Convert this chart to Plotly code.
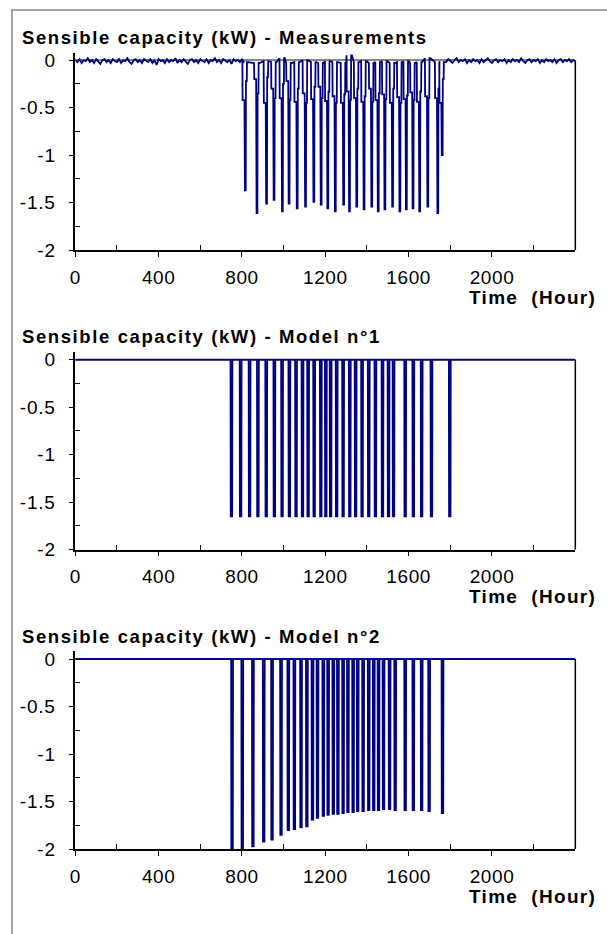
import plotly.graph_objects as go

W, H = 607, 934

# ---------------- data ----------------
x_tick_vals = [0, 400, 800, 1200, 1600, 2000]
x_tick_text = ["0", "400", "800", "1200", "1600", "2000"]
x_minor_vals = [200, 600, 1000, 1400, 1800, 2200]
y_tick_vals = [0, -0.5, -1, -1.5, -2]
y_tick_text = ["0", "-0.5", "-1", "-1.5", "-2"]
y_minor_vals = [-0.25, -0.75, -1.25, -1.75]

panel_titles = [
    "Sensible capacity (kW) - Measurements",
    "Sensible capacity (kW) - Model n°1",
    "Sensible capacity (kW) - Model n°2",
]
x_title = "Time  (Hour)"

# Measurements: idle noise before and after the cooling period (sampled every 10 h)
meas_pre_hours = list(range(0, 820, 10))
meas_pre_vals = [0.00, -0.02, 0.01, -0.03, 0.00, -0.01, 0.02, -0.02, 0.00, -0.03,
                 0.01, -0.01, -0.04, 0.00, 0.01, -0.02, 0.00, -0.03, 0.01, -0.01,
                 -0.02, 0.01, -0.03, 0.00, -0.01, 0.02, -0.02, -0.04, 0.00, 0.01,
                 -0.02, 0.00, -0.03, 0.01, -0.01, -0.02, 0.01, -0.03, 0.00, -0.05,
                 0.01, -0.01, 0.00, -0.03, 0.01, -0.02, 0.00, -0.01, 0.02, -0.03,
                 0.00, -0.02, 0.01, -0.01, -0.04, 0.00, 0.01, -0.02, 0.00, -0.03,
                 0.01, -0.01, -0.02, 0.01, -0.03, 0.00, -0.01, 0.02, -0.02, 0.00,
                 -0.03, 0.01, -0.01, -0.02, 0.00, -0.04, 0.01, -0.01, 0.00, -0.02,
                 0.01, -0.02]
meas_post_hours = list(range(1780, 2410, 10))
meas_post_vals = [-0.02, 0.01, -0.01, -0.03, 0.00, 0.02, -0.02, 0.00, -0.01, 0.01,
                  -0.03, 0.00, -0.02, 0.01, -0.01, 0.00, -0.03, 0.01, -0.02, 0.00,
                  0.02, -0.01, -0.03, 0.00, 0.01, -0.02, 0.00, -0.01, 0.01, -0.03,
                  0.00, -0.02, 0.01, -0.01, 0.00, -0.02, 0.02, -0.01, -0.03, 0.00,
                  0.01, -0.02, 0.00, -0.01, 0.01, -0.03, 0.00, -0.02, 0.01, -0.01,
                  0.00, -0.02, 0.01, -0.03, 0.00, 0.01, -0.02, 0.00, -0.01, 0.01,
                  -0.02, 0.00, -0.01]

# Measurements: cooling cycles (spike hour, spike depth, plateau before, plateau after, idle level)
meas_spike_hours = [814, 870, 916, 952, 992, 1024, 1063, 1103, 1143, 1178, 1210, 1246,
                    1286, 1314, 1349, 1384, 1421, 1452, 1484, 1521, 1556, 1587, 1619,
                    1651, 1690, 1738, 1759]
meas_spike_depth = [-1.37, -1.61, -1.51, -1.47, -1.59, -1.51, -1.56, -1.54, -1.49, -1.52,
                    -1.56, -1.59, -1.52, -1.59, -1.54, -1.57, -1.54, -1.59, -1.57, -1.54,
                    -1.59, -1.57, -1.56, -1.59, -1.54, -1.61, -1.00]
meas_plateau_pre = [-0.42, -0.20, -0.45, -0.30, -0.40, -0.22, -0.44, -0.35, -0.41, -0.28,
                    -0.43, -0.38, -0.45, -0.33, -0.40, -0.44, -0.30, -0.42, -0.36, -0.45,
                    -0.39, -0.41, -0.34, -0.44, -0.38, -0.40, -0.45]
meas_plateau_post = [-0.22, -0.35, -0.18, -0.40, -0.25, -0.42, -0.30, -0.45, -0.28, -0.40,
                     -0.33, -0.45, -0.36, -0.42, -0.30, -0.38, -0.44, -0.35, -0.41, -0.30,
                     -0.45, -0.37, -0.42, -0.33, -0.40, -0.30, -0.20]
meas_idle_level = [-0.02, -0.03, -0.01, -0.02, 0.02, -0.03, -0.02, 0.00, -0.02, -0.03,
                   -0.01, -0.02, -0.03, 0.05, -0.02, -0.01, -0.03, -0.02, -0.01, -0.03,
                   -0.02, -0.01, -0.03, -0.02, 0.02, -0.02, -0.02]

# Model n°1: spike hours and depths
m1_spike_hours = [746, 790, 833, 873, 913, 952, 989, 1024, 1056, 1087, 1114, 1143, 1175,
                  1199, 1222, 1251, 1282, 1314, 1342, 1373, 1405, 1437, 1471, 1500, 1524,
                  1580, 1619, 1659, 1706, 1794]
m1_spike_depth = [-1.65] * 30

# Model n°2: spike hours and depths
m2_spike_hours = [749, 798, 849, 901, 941, 984, 1019, 1048, 1080, 1108, 1135, 1159, 1187,
                  1210, 1235, 1257, 1282, 1305, 1330, 1352, 1378, 1405, 1429, 1452, 1476,
                  1505, 1532, 1580, 1619, 1659, 1695, 1759]
m2_spike_depth = [-2.00, -2.00, -1.97, -1.92, -1.90, -1.85, -1.80, -1.79, -1.77, -1.76,
                  -1.69, -1.67, -1.65, -1.64, -1.63, -1.63, -1.62, -1.61, -1.61, -1.60,
                  -1.60, -1.59, -1.59, -1.59, -1.58, -1.58, -1.59, -1.59, -1.59, -1.59,
                  -1.60, -1.62]

# ---------------- build series ----------------
def meas_series():
    xs, ys = list(meas_pre_hours), list(meas_pre_vals)
    for t, d, a, b, idle in zip(meas_spike_hours, meas_spike_depth, meas_plateau_pre,
                                meas_plateau_post, meas_idle_level):
        xs += [t - 12, t - 11, t - 2, t, t + 4, t + 5, t + 9, t + 10, t + 14]
        ys += [idle, a, a, d, d, b, b, idle, idle]
    xs += meas_post_hours
    ys += meas_post_vals
    return xs, ys


def model_series(hours, depths):
    xs, ys = [0], [0]
    for t, d in zip(hours, depths):
        xs += [t - 1, t, t + 7, t + 8]
        ys += [0, d, d, 0]
    xs.append(2400)
    ys.append(0)
    return xs, ys


series = [meas_series(), model_series(m1_spike_hours, m1_spike_depth),
          model_series(m2_spike_hours, m2_spike_depth)]

# ---------------- layout ----------------
LINE = "#000080"
FONT = "Liberation Sans, Arial, sans-serif"
x_left, x_right = 70, 575
zero_px = [58, 362, 666]
unit_px = 96.5
ymax = 0.08


def spaced(s, px):
    return '<span style="letter-spacing:%spx">%s</span>' % (px, s)


fig = go.Figure()
annotations = []
shapes = []
layout = {}
for i, (xs, ys) in enumerate(series):
    k = "" if i == 0 else str(i + 1)
    fig.add_trace(go.Scatter(x=xs, y=ys, mode="lines", xaxis="x" + k, yaxis="y" + k,
                             line=dict(color=LINE, width=1.8), showlegend=False,
                             hoverinfo="skip"))
    top_px = zero_px[i] - ymax * unit_px
    bot_px = zero_px[i] + 2 * unit_px
    layout["xaxis" + k] = dict(
        domain=[x_left / W, x_right / W], range=[0, 2400], anchor="y" + k,
        showline=True, linecolor="black", linewidth=1.5, showgrid=False, zeroline=False,
        ticks="outside", ticklen=5, tickwidth=1.2, tickcolor="black",
        tickmode="array", tickvals=x_tick_vals,
        ticktext=[spaced(t, 0.6) for t in x_tick_text],
        minor=dict(tickmode="array", tickvals=x_minor_vals, ticks="inside", ticklen=5,
                   tickwidth=1.2, tickcolor="black"),
        tickfont=dict(family=FONT, size=19, color="black"), ticklabelstandoff=4,
    )
    layout["yaxis" + k] = dict(
        domain=[1 - bot_px / H, 1 - top_px / H], range=[-2, ymax], anchor="x" + k,
        showline=True, linecolor="black", linewidth=1.5, showgrid=False,
        zeroline=True, zerolinecolor="#888888", zerolinewidth=1.5,
        ticks="outside", ticklen=5, tickwidth=1.2, tickcolor="black",
        tickmode="array", tickvals=y_tick_vals,
        ticktext=[spaced(t, 0.8) for t in y_tick_text],
        minor=dict(tickmode="array", tickvals=y_minor_vals, ticks="inside", ticklen=5,
                   tickwidth=1.2, tickcolor="black"),
        tickfont=dict(family=FONT, size=19, color="black"), ticklabelstandoff=9,
    )
    # right border of plot area
    shapes.append(dict(type="line", xref="x" + k + " domain", x0=1, x1=1,
                       yref="y" + k, y0=-2, y1=0, line=dict(color="black", width=1.5),
                       layer="below"))
    annotations.append(dict(text="<b>" + spaced(panel_titles[i], 1.6) + "</b>",
                            xref="paper", yref="paper",
                            x=14 / W, y=1 - (zero_px[i] - 23) / H, xanchor="left",
                            yanchor="middle", showarrow=False,
                            font=dict(family=FONT, size=18.5, color="black")))
    annotations.append(dict(text="<b>" + spaced(x_title, 1.3) + "</b>",
                            xref="paper", yref="paper",
                            x=598 / W, y=1 - (bot_px + 48) / H, xanchor="right",
                            yanchor="middle", showarrow=False,
                            font=dict(family=FONT, size=19, color="black")))

# outer frame
shapes.append(dict(type="rect", xref="paper", yref="paper", x0=6 / W, x1=1.02,
                   y0=-0.02, y1=1 - 7 / H, line=dict(color="#888888", width=1.5)))

fig.update_layout(width=W, height=H, margin=dict(l=0, r=0, t=0, b=0),
                  paper_bgcolor="white", plot_bgcolor="white",
                  annotations=annotations, shapes=shapes, **layout)

fig.write_html("out.html")
